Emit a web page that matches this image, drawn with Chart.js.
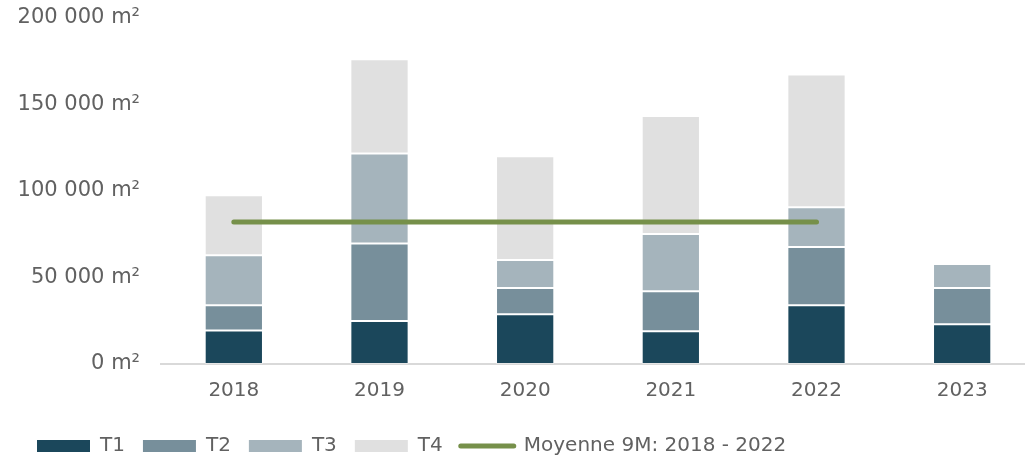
<!DOCTYPE html>
<html>
<head>
<meta charset="utf-8">
<script src="https://cdn.jsdelivr.net/npm/chart.js@4/dist/chart.umd.min.js"></script>
<style>
  html, body { margin: 0; padding: 0; background: #ffffff; overflow: hidden; }
  #wrap { position: relative; width: 1036px; height: 466px; }
</style>
</head>
<body>
<div id="wrap"><canvas id="c"></canvas></div>
<script>
const categories = ['2018', '2019', '2020', '2021', '2022', '2023'];
const t1 = [19400, 24800, 28800, 19000, 34000, 23000];
const t2 = [14500, 44800, 15100, 23100, 33600, 20900];
const t3 = [28900, 52100, 16200, 33000, 23000, 13900];
const t4 = [34700, 54400, 60000, 68200, 76800, null];
const moyenne = [82100, 82100, 82100, 82100, 82100, null];
const yTicks = [0, 50000, 100000, 150000, 200000];

const FONT = "'DejaVu Sans', sans-serif";
const TXT = '#616161';
const SEG_BORDER = 'rgba(255,255,255,0.35)';

function fmt(v) {
  return String(v).replace(/\B(?=(\d{3})+(?!\d))/g, ' ') + ' m²';
}

new Chart(document.getElementById('c'), {
  type: 'bar',
  data: {
    labels: categories,
    datasets: [
      { label: 'T1', data: t1, backgroundColor: '#1b475b', order: 1 },
      { label: 'T2', data: t2, backgroundColor: '#778f9b', order: 1 },
      { label: 'T3', data: t3, backgroundColor: '#a5b4bc', order: 1 },
      { label: 'T4', data: t4, backgroundColor: '#e0e0e0', order: 1 },
      { type: 'line', label: 'Moyenne 9M: 2018 - 2022', data: moyenne,
        borderColor: '#76904a', backgroundColor: '#76904a', borderWidth: 5,
        borderCapStyle: 'round', pointRadius: 0, pointHoverRadius: 0,
        pointStyle: 'line', spanGaps: false, order: 0 }
    ]
  },
  options: {
    responsive: true,
    maintainAspectRatio: false,
    animation: false,
    layout: { padding: { left: 19, top: 18, right: 1, bottom: 0 } },
    datasets: { bar: { categoryPercentage: 1, barPercentage: 0.4,
                       borderWidth: 1, borderColor: SEG_BORDER, borderSkipped: false } },
    scales: {
      x: {
        stacked: true,
        offset: true,
        grid: { display: false },
        border: { display: true, color: '#d9d9d9', width: 2 },
        ticks: { color: TXT, font: { family: FONT, size: 20 }, padding: 7 },
        afterFit: (s) => { s.height = 54; }
      },
      y: {
        stacked: true,
        min: 0, max: 200000,
        grid: { display: false, drawTicks: true, tickLength: 21 },
        border: { display: false },
        afterBuildTicks: (s) => { s.ticks = yTicks.map(v => ({ value: v })); },
        ticks: { color: TXT, font: { family: FONT, size: 21 }, padding: 0,
                 callback: (v) => fmt(v) },
        afterFit: (s) => { s.width = 142; }
      }
    },
    plugins: {
      tooltip: { enabled: false },
      legend: {
        position: 'bottom',
        align: 'start',
        labels: {
          color: TXT,
          font: { family: FONT, size: 20 },
          usePointStyle: true,
          pointStyleWidth: 53,
          boxHeight: 12,
          padding: 18,
          sort: (a, b) => a.datasetIndex - b.datasetIndex,
          generateLabels: (chart) => {
            const items = Chart.defaults.plugins.legend.labels.generateLabels(chart);
            items.forEach(it => {
              if (it.datasetIndex === 4) {
                it.pointStyle = 'line';
                it.lineWidth = 5;
                it.lineCap = 'round';
                it.strokeStyle = '#76904a';
              } else {
                it.pointStyle = 'rect';
                it.lineWidth = 0;
              }
            });
            return items;
          }
        }
      }
    }
  }
});
</script>
</body>
</html>
